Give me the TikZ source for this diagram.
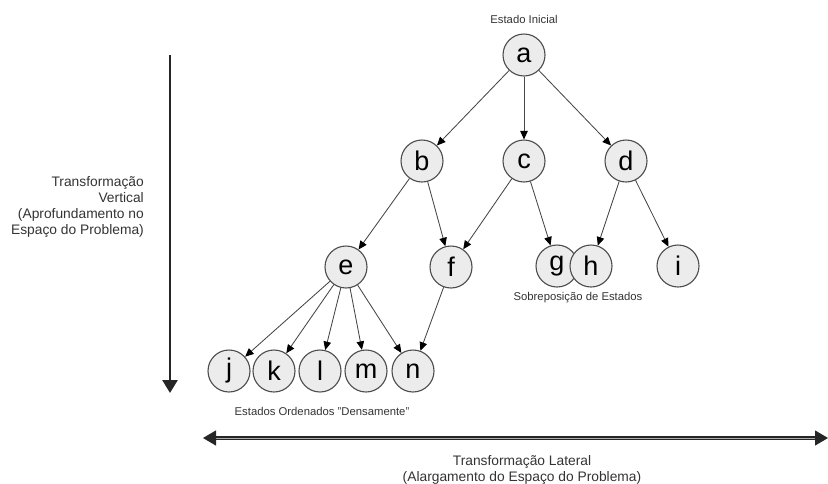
\documentclass[tikz,border=0pt]{standalone}
\usepackage{fontspec}
\setmainfont{Liberation Sans}
\usetikzlibrary{arrows.meta}
\begin{document}
\begin{tikzpicture}[x=1pt,y=-1pt,
  state/.style={circle,draw=gray!60!black,fill=gray!15,line width=1.1pt,
    minimum size=42pt,inner sep=0pt,font=\fontsize{27}{27}\selectfont},
  link/.style={draw=gray!55!black,line width=0.85pt,
    -{Triangle[length=8.5pt,width=7.5pt,fill=black,color=black]}},
  smalllabel/.style={font=\fontsize{11.3}{13}\selectfont,text=black!80},
  biglabel/.style={font=\fontsize{13.8}{16}\selectfont,text=black!80,inner sep=0pt},
  bigarrow/.style={line width=2.6pt,draw=black!85}
]
\useasboundingbox (0,0) rectangle (828,483);

% search tree
\node[state] (a) at (524,55) {a};
\node[state] (b) at (422,161) {b};
\node[state] (c) at (524,161) {c};
\node[state] (d) at (626,161) {d};
\node[state] (e) at (346,267) {e};
\node[state] (f) at (451,267) {f};
\node[state] (g) at (557,266) {g};
\node[state] (h) at (591,266) {h};
\node[state] (i) at (678,266) {i};
\node[state] (j) at (229,371) {j};
\node[state] (k) at (274,371) {k};
\node[state] (l) at (320,371) {l};
\node[state] (m) at (366,371) {m};
\node[state] (n) at (413,371) {n};

\draw[link] (a) -- (b);
\draw[link] (a) -- (c);
\draw[link] (a) -- (d);
\draw[link] (b) -- (e);
\draw[link] (b) -- (f);
\draw[link] (c) -- (f);
\draw[link] (c) -- (g);
\draw[link] (d) -- (h);
\draw[link] (d) -- (i);
\draw[link] (e) -- (j);
\draw[link] (e) -- (k);
\draw[link] (e) -- (l);
\draw[link] (e) -- (m);
\draw[link] (e) -- (n);
\draw[link] (f) -- (n);

% captions
\node[smalllabel] (start) at (524,19) {Estado Inicial};
\node[smalllabel] (overlap) at (578,298) {Sobreposição de Estados};
\node[smalllabel] (dense) at (322,411) {Estados Ordenados "Densamente"};

% vertical transformation axis
\coordinate (vtop) at (170,55);
\coordinate (vbot) at (170,393);
\draw[bigarrow,-{Triangle[length=13pt,width=15pt]}] (vtop) -- (vbot);
\node[biglabel,align=right,anchor=east] (vlabel) at (144,207)
  {Transformação\\Vertical\\(Aprofundamento no\\Espaço do Problema)};

% lateral transformation axis
\coordinate (hleft) at (203,438);
\coordinate (hright) at (828,438);
\draw[line width=1.2pt,draw=black!85,double=gray!65,double distance=0.7pt,
  {Triangle[length=13pt,width=15pt]}-{Triangle[length=13pt,width=15pt]}] (hleft) -- (hright);
\node[biglabel,align=center] (hlabel) at (522,470)
  {Transformação Lateral\\(Alargamento do Espaço do Problema)};
\end{tikzpicture}
\end{document}
